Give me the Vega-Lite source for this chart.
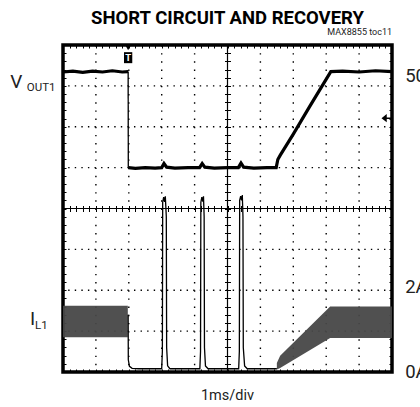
{
  "$schema": "https://vega.github.io/schema/vega-lite/v6.json",
  "width": 329,
  "height": 327,
  "autosize": {"type": "none"},
  "padding": {"left": 63, "top": 45, "right": 28, "bottom": 35},
  "background": "white",
  "config": {
    "view": {"stroke": "black", "strokeWidth": 3.5},
    "axis": {"grid": false, "labels": false, "domain": false, "ticks": true, "tickColor": "black", "tickSize": 3, "tickWidth": 1},
    "axisX": {"tickCount": 50},
    "axisY": {"tickCount": 40},
    "text": {"font": "Roboto", "color": "#222"}
  },
  "resolve": {"axis": {"x": "independent", "y": "independent"}},
  "datasets": {
    "vout": [
      {"seg": "h1", "x": 0, "y": 7.34}, {"seg": "h1", "x": 0.3, "y": 7.36}, {"seg": "h1", "x": 0.6, "y": 7.33}, {"seg": "h1", "x": 0.9, "y": 7.36}, {"seg": "h1", "x": 1.2, "y": 7.34}, {"seg": "h1", "x": 1.5, "y": 7.37}, {"seg": "h1", "x": 1.8, "y": 7.34}, {"seg": "h1", "x": 1.98, "y": 7.35},
      {"seg": "drop", "x": 1.98, "y": 7.35}, {"seg": "drop", "x": 1.985, "y": 5.0},
      {"seg": "low", "x": 1.985, "y": 5.0}, {"seg": "low", "x": 2.2, "y": 4.98}, {"seg": "low", "x": 2.5, "y": 5.0}, {"seg": "low", "x": 2.8, "y": 4.99}, {"seg": "low", "x": 3.0, "y": 5.0}, {"seg": "low", "x": 3.07, "y": 5.1}, {"seg": "low", "x": 3.15, "y": 5.01}, {"seg": "low", "x": 3.4, "y": 4.99}, {"seg": "low", "x": 3.8, "y": 5.0}, {"seg": "low", "x": 4.15, "y": 5.0}, {"seg": "low", "x": 4.23, "y": 5.1}, {"seg": "low", "x": 4.31, "y": 5.01}, {"seg": "low", "x": 4.6, "y": 4.99}, {"seg": "low", "x": 5.0, "y": 5.0}, {"seg": "low", "x": 5.33, "y": 5.0}, {"seg": "low", "x": 5.41, "y": 5.11}, {"seg": "low", "x": 5.49, "y": 5.01}, {"seg": "low", "x": 5.8, "y": 4.99}, {"seg": "low", "x": 6.2, "y": 5.0}, {"seg": "low", "x": 6.48, "y": 5.0}, {"seg": "low", "x": 6.53, "y": 5.2}, {"seg": "low", "x": 6.6, "y": 5.3}, {"seg": "low", "x": 7.0, "y": 5.82}, {"seg": "low", "x": 7.5, "y": 6.5}, {"seg": "low", "x": 8.14, "y": 7.35}, {"seg": "low", "x": 8.5, "y": 7.36}, {"seg": "low", "x": 9.0, "y": 7.34}, {"seg": "low", "x": 9.5, "y": 7.37}, {"seg": "low", "x": 10, "y": 7.35}
    ],
    "il": [
      {"x": 1.98, "y": 1.4}, {"x": 1.985, "y": 0.3}, {"x": 2.02, "y": 0.14}, {"x": 2.1, "y": 0.09}, {"x": 2.3, "y": 0.08}, {"x": 2.7, "y": 0.08}, {"x": 3.0, "y": 0.08},
      {"x": 3.02, "y": 0.5}, {"x": 3.03, "y": 4.15}, {"x": 3.06, "y": 4.28}, {"x": 3.09, "y": 4.16}, {"x": 3.11, "y": 4.3}, {"x": 3.14, "y": 3.8}, {"x": 3.15, "y": 0.6}, {"x": 3.18, "y": 0.15}, {"x": 3.25, "y": 0.08},
      {"x": 3.6, "y": 0.08}, {"x": 4.0, "y": 0.08}, {"x": 4.16, "y": 0.08},
      {"x": 4.18, "y": 0.5}, {"x": 4.19, "y": 4.15}, {"x": 4.22, "y": 4.28}, {"x": 4.25, "y": 4.17}, {"x": 4.27, "y": 4.3}, {"x": 4.29, "y": 3.8}, {"x": 4.3, "y": 0.6}, {"x": 4.33, "y": 0.15}, {"x": 4.41, "y": 0.08},
      {"x": 4.8, "y": 0.08}, {"x": 5.2, "y": 0.08}, {"x": 5.34, "y": 0.08},
      {"x": 5.36, "y": 0.5}, {"x": 5.37, "y": 4.2}, {"x": 5.4, "y": 4.3}, {"x": 5.43, "y": 4.2}, {"x": 5.45, "y": 4.33}, {"x": 5.47, "y": 3.8}, {"x": 5.48, "y": 0.6}, {"x": 5.52, "y": 0.15}, {"x": 5.6, "y": 0.08},
      {"x": 6.0, "y": 0.08}, {"x": 6.5, "y": 0.08}
    ],
    "ilband": [
      {"seg": "a", "x": 0, "lo": 0.85, "hi": 1.62}, {"seg": "a", "x": 1.97, "lo": 0.85, "hi": 1.62},
      {"seg": "b", "x": 6.5, "lo": 0.06, "hi": 0.22}, {"seg": "b", "x": 6.6, "lo": 0.1, "hi": 0.4}, {"seg": "b", "x": 8.12, "lo": 0.83, "hi": 1.6}, {"seg": "b", "x": 10, "lo": 0.83, "hi": 1.6}
    ]
  },
  "layer": [
    {
      "data": {"values": [{"g": 1}, {"g": 2}, {"g": 3}, {"g": 4}, {"g": 6}, {"g": 7}, {"g": 8}, {"g": 9}]},
      "mark": {"type": "rule", "color": "black", "strokeWidth": 1.4, "strokeDash": [1.4, 6.775]},
      "encoding": {"x": {"field": "g", "type": "quantitative", "scale": {"domain": [0, 10], "nice": false, "zero": false}, "axis": null}}
    },
    {
      "data": {"values": [{"g": 1}, {"g": 2}, {"g": 3}, {"g": 5}, {"g": 6}, {"g": 7}]},
      "mark": {"type": "rule", "color": "black", "strokeWidth": 1.4, "strokeDash": [1.4, 5.18]},
      "encoding": {"y": {"field": "g", "type": "quantitative", "scale": {"domain": [0, 8], "nice": false, "zero": false}, "axis": null}}
    },
    {
      "data": {"values": [{"c": 5}]},
      "mark": {"type": "rule", "color": "black", "strokeWidth": 1.2},
      "encoding": {"x": {"field": "c", "type": "quantitative", "scale": {"domain": [0, 10], "nice": false, "zero": false}, "axis": null}}
    },
    {
      "data": {"values": [{"c": 4}]},
      "mark": {"type": "rule", "color": "black", "strokeWidth": 1.2},
      "encoding": {"y": {"field": "c", "type": "quantitative", "scale": {"domain": [0, 8], "nice": false, "zero": false}, "axis": null}}
    },
    {
      "data": {"name": "ilband"},
      "mark": {"type": "area", "color": "#474747", "opacity": 0.95},
      "encoding": {
        "x": {"field": "x", "type": "quantitative", "scale": {"domain": [0, 10], "nice": false, "zero": false}, "axis": {"orient": "bottom", "offset": -163.5, "title": null}},
        "y": {"field": "lo", "type": "quantitative", "scale": {"domain": [0, 8], "nice": false, "zero": false}, "axis": {"orient": "left", "offset": -164.5, "title": null}},
        "y2": {"field": "hi"},
        "detail": {"field": "seg"}
      }
    },
    {
      "data": {"name": "il"},
      "mark": {"type": "line", "color": "black", "strokeWidth": 1.3},
      "encoding": {
        "x": {"field": "x", "type": "quantitative", "scale": {"domain": [0, 10], "nice": false, "zero": false}, "axis": {"orient": "top", "offset": -327, "title": null}},
        "y": {"field": "y", "type": "quantitative", "scale": {"domain": [0, 8], "nice": false, "zero": false}, "axis": {"orient": "left", "offset": -329, "title": null}}
      }
    },
    {
      "data": {"name": "vout"},
      "mark": {"type": "line", "color": "black"},
      "encoding": {
        "x": {"field": "x", "type": "quantitative", "scale": {"domain": [0, 10], "nice": false, "zero": false}, "axis": {"orient": "bottom", "offset": -327, "title": null}},
        "y": {"field": "y", "type": "quantitative", "scale": {"domain": [0, 8], "nice": false, "zero": false}, "axis": {"orient": "right", "offset": -329, "title": null}},
        "detail": {"field": "seg"},
        "strokeWidth": {"condition": {"test": "datum.seg === 'drop'", "value": 1.3}, "value": 3.2}
      }
    },
    {
      "data": {"values": [{"x": 1.98, "y": 7.69}]},
      "mark": {"type": "point", "shape": "M-0.75,-1L0.75,-1L0.75,1L-0.75,1Z", "size": 121, "filled": true, "color": "black", "opacity": 1},
      "encoding": {
        "x": {"field": "x", "type": "quantitative", "scale": {"domain": [0, 10], "nice": false, "zero": false}, "axis": {"orient": "top", "offset": -163.5, "title": null}},
        "y": {"field": "y", "type": "quantitative", "scale": {"domain": [0, 8], "nice": false, "zero": false}, "axis": {"orient": "right", "offset": -164.5, "title": null}}
      }
    },
    {
      "data": {"values": [{"x": 1.98, "y": 7.93}]},
      "mark": {"type": "point", "shape": "triangle-down", "size": 28, "filled": true, "color": "black", "opacity": 1},
      "encoding": {
        "x": {"field": "x", "type": "quantitative", "scale": {"domain": [0, 10], "nice": false, "zero": false}, "axis": null},
        "y": {"field": "y", "type": "quantitative", "scale": {"domain": [0, 8], "nice": false, "zero": false}, "axis": null}
      }
    },
    {
      "data": {"values": [{"x": 1.98, "y": 7.69, "t": "T"}]},
      "mark": {"type": "text", "color": "white", "fontSize": 9.5, "fontWeight": "bold", "baseline": "middle", "align": "center"},
      "encoding": {
        "x": {"field": "x", "type": "quantitative", "scale": {"domain": [0, 10], "nice": false, "zero": false}, "axis": null},
        "y": {"field": "y", "type": "quantitative", "scale": {"domain": [0, 8], "nice": false, "zero": false}, "axis": null},
        "text": {"field": "t"}
      }
    },
    {
      "data": {"values": [{"x": 9.84, "y": 6.21}]},
      "mark": {"type": "point", "shape": "M-1,0L0,-0.8L0,0.8Z M0,-0.15L1,-0.15L1,0.15L0,0.15Z", "size": 110, "filled": true, "color": "black", "opacity": 1},
      "encoding": {
        "x": {"field": "x", "type": "quantitative", "scale": {"domain": [0, 10], "nice": false, "zero": false}, "axis": null},
        "y": {"field": "y", "type": "quantitative", "scale": {"domain": [0, 8], "nice": false, "zero": false}, "axis": null}
      }
    },
    {
      "data": {"values": [{"x": 5, "y": 8.515, "t": "SHORT CIRCUIT AND RECOVERY"}]},
      "mark": {"type": "text", "fontSize": 18.5, "fontWeight": "bold", "color": "black", "align": "center", "baseline": "alphabetic"},
      "encoding": {
        "x": {"field": "x", "type": "quantitative", "scale": {"domain": [0, 10], "nice": false, "zero": false}, "axis": null},
        "y": {"field": "y", "type": "quantitative", "scale": {"domain": [0, 8], "nice": false, "zero": false}, "axis": null},
        "text": {"field": "t"}
      }
    },
    {
      "data": {"values": [{"x": 10, "y": 8.235, "t": "MAX8855 toc11"}]},
      "mark": {"type": "text", "fontSize": 9, "align": "right", "baseline": "alphabetic"},
      "encoding": {
        "x": {"field": "x", "type": "quantitative", "scale": {"domain": [0, 10], "nice": false, "zero": false}, "axis": null},
        "y": {"field": "y", "type": "quantitative", "scale": {"domain": [0, 8], "nice": false, "zero": false}, "axis": null},
        "text": {"field": "t"}
      }
    },
    {
      "data": {"values": [{"x": -1.6, "y": 6.95, "t": "V"}, {"x": -1.0, "y": 1.15, "t": "I"}]},
      "mark": {"type": "text", "fontSize": 19, "align": "left", "baseline": "alphabetic"},
      "encoding": {
        "x": {"field": "x", "type": "quantitative", "scale": {"domain": [0, 10], "nice": false, "zero": false}, "axis": null},
        "y": {"field": "y", "type": "quantitative", "scale": {"domain": [0, 8], "nice": false, "zero": false}, "axis": null},
        "text": {"field": "t"}
      }
    },
    {
      "data": {"values": [{"x": -1.1, "y": 6.87, "t": "OUT1"}, {"x": -0.85, "y": 1.05, "t": "L1"}]},
      "mark": {"type": "text", "fontSize": 11.5, "align": "left", "baseline": "alphabetic"},
      "encoding": {
        "x": {"field": "x", "type": "quantitative", "scale": {"domain": [0, 10], "nice": false, "zero": false}, "axis": null},
        "y": {"field": "y", "type": "quantitative", "scale": {"domain": [0, 8], "nice": false, "zero": false}, "axis": null},
        "text": {"field": "t"}
      }
    },
    {
      "data": {"values": [{"x": 10.4, "y": 7.1, "t": "50"}, {"x": 10.4, "y": 1.93, "t": "2A"}, {"x": 10.4, "y": -0.15, "t": "0A"}]},
      "mark": {"type": "text", "fontSize": 18.5, "align": "left", "baseline": "alphabetic"},
      "encoding": {
        "x": {"field": "x", "type": "quantitative", "scale": {"domain": [0, 10], "nice": false, "zero": false}, "axis": null},
        "y": {"field": "y", "type": "quantitative", "scale": {"domain": [0, 8], "nice": false, "zero": false}, "axis": null},
        "text": {"field": "t"}
      }
    },
    {
      "data": {"values": [{"x": 5, "y": -0.685, "t": "1ms/div"}]},
      "mark": {"type": "text", "fontSize": 14.5, "align": "center", "baseline": "alphabetic"},
      "encoding": {
        "x": {"field": "x", "type": "quantitative", "scale": {"domain": [0, 10], "nice": false, "zero": false}, "axis": null},
        "y": {"field": "y", "type": "quantitative", "scale": {"domain": [0, 8], "nice": false, "zero": false}, "axis": null},
        "text": {"field": "t"}
      }
    }
  ]
}
